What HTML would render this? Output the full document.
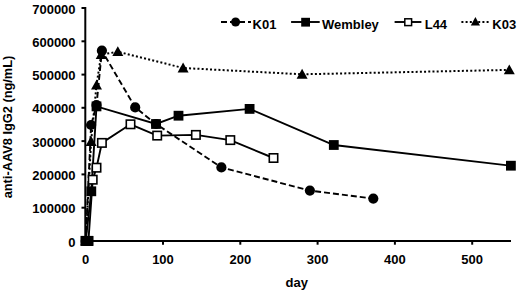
<!DOCTYPE html>
<html><head><meta charset="utf-8"><title>chart</title>
<style>html,body{margin:0;padding:0;background:#fff;font-family:"Liberation Sans",sans-serif;}body{width:520px;height:293px;position:relative;overflow:hidden}</style></head>
<body>
<svg width="520" height="293" viewBox="0 0 520 293" style="position:absolute;left:0;top:0">
<g stroke="#000" stroke-width="2" fill="none">
<line x1="85.3" y1="7" x2="85.3" y2="242"/>
<line x1="81.5" y1="241" x2="511" y2="241"/>
<line x1="81.5" y1="207.7" x2="85.3" y2="207.7"/>
<line x1="81.5" y1="174.4" x2="85.3" y2="174.4"/>
<line x1="81.5" y1="141.1" x2="85.3" y2="141.1"/>
<line x1="81.5" y1="107.8" x2="85.3" y2="107.8"/>
<line x1="81.5" y1="74.6" x2="85.3" y2="74.6"/>
<line x1="81.5" y1="41.3" x2="85.3" y2="41.3"/>
<line x1="81.5" y1="8.0" x2="85.3" y2="8.0"/>
<line x1="85.7" y1="241" x2="85.7" y2="244.7"/>
<line x1="163.0" y1="241" x2="163.0" y2="244.7"/>
<line x1="240.3" y1="241" x2="240.3" y2="244.7"/>
<line x1="317.6" y1="241" x2="317.6" y2="244.7"/>
<line x1="394.9" y1="241" x2="394.9" y2="244.7"/>
<line x1="472.2" y1="241" x2="472.2" y2="244.7"/>
</g>
<polyline points="85.7,241.0 91.1,141.6 96.5,85.2 101.2,54.7 117.8,51.7 183.1,68.0 302.1,74.3 509.3,69.9" fill="none" stroke="#000" stroke-width="2" stroke-dasharray="2,2.2"/>
<polyline points="85.7,241.0 91.1,125.0 96.5,105.1 101.9,50.7 135.2,107.4 156.0,124.0 221.4,167.4 309.9,190.6 373.3,198.6" fill="none" stroke="#000" stroke-width="1.9" stroke-dasharray="6,3"/>
<polyline points="88.4,241.0 92.7,179.7 96.5,167.7 101.9,142.9 130.5,124.3 157.2,135.6 195.9,134.9 230.3,140.1 273.5,158.0" fill="none" stroke="#000" stroke-width="1.9"/>
<polyline points="85.7,241.0 91.3,191.3 96.5,106.4 156.0,124.0 178.5,115.7 249.6,108.9 333.8,145.0 510.9,165.7" fill="none" stroke="#000" stroke-width="1.9"/>
<polygon points="85.7,235.5 80.2,245.4 91.2,245.4" fill="#000"/>
<polygon points="91.1,136.1 85.6,146.0 96.6,146.0" fill="#000"/>
<polygon points="96.5,79.7 91.0,89.6 102.0,89.6" fill="#000"/>
<polygon points="101.2,49.2 95.7,59.1 106.7,59.1" fill="#000"/>
<polygon points="117.8,46.2 112.3,56.1 123.3,56.1" fill="#000"/>
<polygon points="183.1,62.5 177.6,72.4 188.6,72.4" fill="#000"/>
<polygon points="302.1,68.8 296.6,78.7 307.6,78.7" fill="#000"/>
<polygon points="509.3,64.4 503.8,74.3 514.8,74.3" fill="#000"/>
<circle cx="85.7" cy="241.0" r="5.1" fill="#000"/>
<circle cx="91.1" cy="125.0" r="5.1" fill="#000"/>
<circle cx="96.5" cy="105.1" r="5.1" fill="#000"/>
<circle cx="101.9" cy="50.7" r="5.1" fill="#000"/>
<circle cx="135.2" cy="107.4" r="5.1" fill="#000"/>
<circle cx="156.0" cy="124.0" r="5.1" fill="#000"/>
<circle cx="221.4" cy="167.4" r="5.1" fill="#000"/>
<circle cx="309.9" cy="190.6" r="5.1" fill="#000"/>
<circle cx="373.3" cy="198.6" r="5.1" fill="#000"/>
<rect x="84.2" y="236.8" width="8.4" height="8.4" fill="#fff" stroke="#000" stroke-width="1.6"/>
<rect x="88.5" y="175.5" width="8.4" height="8.4" fill="#fff" stroke="#000" stroke-width="1.6"/>
<rect x="92.3" y="163.5" width="8.4" height="8.4" fill="#fff" stroke="#000" stroke-width="1.6"/>
<rect x="97.7" y="138.7" width="8.4" height="8.4" fill="#fff" stroke="#000" stroke-width="1.6"/>
<rect x="126.3" y="120.1" width="8.4" height="8.4" fill="#fff" stroke="#000" stroke-width="1.6"/>
<rect x="153.0" y="131.4" width="8.4" height="8.4" fill="#fff" stroke="#000" stroke-width="1.6"/>
<rect x="191.7" y="130.7" width="8.4" height="8.4" fill="#fff" stroke="#000" stroke-width="1.6"/>
<rect x="226.1" y="135.9" width="8.4" height="8.4" fill="#fff" stroke="#000" stroke-width="1.6"/>
<rect x="269.3" y="153.8" width="8.4" height="8.4" fill="#fff" stroke="#000" stroke-width="1.6"/>
<rect x="80.8" y="236.1" width="9.8" height="9.8" fill="#000"/>
<rect x="86.4" y="186.4" width="9.8" height="9.8" fill="#000"/>
<rect x="91.6" y="101.5" width="9.8" height="9.8" fill="#000"/>
<rect x="151.1" y="119.1" width="9.8" height="9.8" fill="#000"/>
<rect x="173.6" y="110.8" width="9.8" height="9.8" fill="#000"/>
<rect x="244.7" y="104.0" width="9.8" height="9.8" fill="#000"/>
<rect x="328.9" y="140.1" width="9.8" height="9.8" fill="#000"/>
<rect x="506.0" y="160.8" width="9.8" height="9.8" fill="#000"/>
<rect x="80.6" y="235.9" width="12.6" height="9.6" fill="#000"/>
<line x1="221" y1="22" x2="251" y2="22" stroke="#000" stroke-width="1.9" stroke-dasharray="6,3"/>
<circle cx="235.6" cy="22" r="4.5" fill="#000"/>
<line x1="291.1" y1="22" x2="319.7" y2="22" stroke="#000" stroke-width="1.9"/>
<rect x="301.2" y="17.8" width="8.8" height="8.8" fill="#000"/>
<line x1="394.6" y1="22" x2="421.4" y2="22" stroke="#000" stroke-width="1.9"/>
<rect x="404.8" y="18.8" width="6.8" height="6.8" fill="#fff" stroke="#000" stroke-width="1.5"/>
<line x1="461.4" y1="22" x2="489.4" y2="22" stroke="#000" stroke-width="2" stroke-dasharray="2,2.2"/>
<polygon points="475.4,17.1 470.8,25.4 480.0,25.4" fill="#000"/>
<g font-family="Liberation Sans, sans-serif" font-weight="bold" font-size="13" fill="#000">
<text x="75.6" y="246.6" text-anchor="end">0</text>
<text x="75.6" y="213.3" text-anchor="end">100000</text>
<text x="75.6" y="180.0" text-anchor="end">200000</text>
<text x="75.6" y="146.7" text-anchor="end">300000</text>
<text x="75.6" y="113.4" text-anchor="end">400000</text>
<text x="75.6" y="80.2" text-anchor="end">500000</text>
<text x="75.6" y="46.9" text-anchor="end">600000</text>
<text x="75.6" y="13.6" text-anchor="end">700000</text>
<text x="85.7" y="263.6" text-anchor="middle">0</text>
<text x="163.0" y="263.6" text-anchor="middle">100</text>
<text x="240.3" y="263.6" text-anchor="middle">200</text>
<text x="317.6" y="263.6" text-anchor="middle">300</text>
<text x="394.9" y="263.6" text-anchor="middle">400</text>
<text x="472.2" y="263.6" text-anchor="middle">500</text>
<text x="296.8" y="286.7" text-anchor="middle" font-size="13">day</text>
<text transform="translate(12.3,127) rotate(-90)" text-anchor="middle" font-size="12.8">anti-AAV8 IgG2 (ng/mL)</text>
<text x="252.6" y="29" font-size="13">K01</text>
<text x="322" y="29" font-size="13">Wembley</text>
<text x="424.7" y="29" font-size="13">L44</text>
<text x="492.3" y="29" font-size="13">K03</text>
</g>
</svg>
</body></html>
